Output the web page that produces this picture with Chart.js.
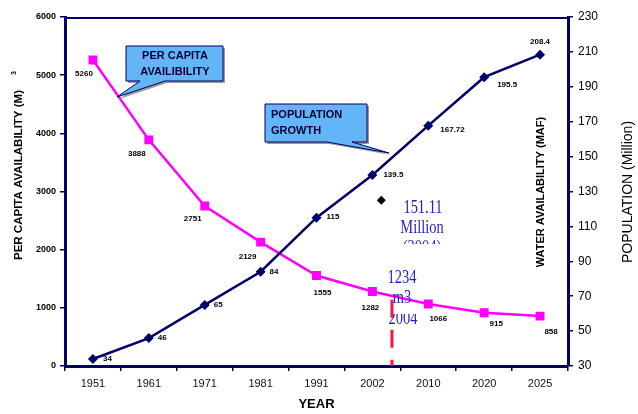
<!DOCTYPE html>
<html><head><meta charset="utf-8">
<script src="https://cdn.jsdelivr.net/npm/chart.js@4"></script>
<style>html,body{margin:0;padding:0;background:#fff}</style>
</head><body>
<canvas id="c" width="638" height="414" style="display:block;width:638px;height:414px"></canvas>
<script>
// ---- data ----
const categories = ['1951','1961','1971','1981','1991','2002','2010','2020','2025'];
const perCapita = [5260, 3888, 2751, 2129, 1555, 1282, 1066, 915, 858];
const population = [34, 46, 65, 84, 115, 139.5, 167.72, 195.5, 208.4];
const leftTickRange = {min: 0, max: 6000, step: 1000};
const rightTickRange = {min: 30, max: 230, step: 20};
const popMarker2004 = [{x: 5.16, y: 125}];
const dropLine2004 = [{x: 5.35, y: 68}, {x: 5.35, y: 30}];

const NAVY = '#000066';
const PINK = '#FF00FF';
const FONT = 'Arial, "Liberation Sans", sans-serif';
const SERIF = '"Times New Roman", "Liberation Serif", serif';

const overlay = {
  id: 'overlay',
  afterDatasetsDraw(chart) {
    const ctx = chart.ctx, a = chart.chartArea;
    ctx.save();
    // top frame line
    ctx.strokeStyle = NAVY; ctx.lineWidth = 2;
    ctx.beginPath(); ctx.moveTo(a.left, a.top + 1); ctx.lineTo(a.right, a.top + 1); ctx.stroke();

    // data labels
    ctx.fillStyle = '#000';
    ctx.font = 'bold 8px ' + FONT;
    ctx.textBaseline = 'middle';
    const pinkOff = [[-9,14],[-12,14],[-12,13],[-13,15],[6,17],[-2,16],[10,15],[12,11],[11,16]];
    const navyOff = [[10,0,'left'],[9,0,'left'],[9,0,'left'],[9,0,'left'],[10,-1,'left'],[11,0,'left'],[12,4,'left'],[13,8,'left'],[0,-13,'center']];
    const mp = chart.getDatasetMeta(0), mn = chart.getDatasetMeta(1);
    perCapita.forEach((v, i) => {
      const p = mp.data[i]; ctx.textAlign = 'center';
      ctx.fillText(String(v), p.x + pinkOff[i][0], p.y + pinkOff[i][1]);
    });
    population.forEach((v, i) => {
      const p = mn.data[i]; ctx.textAlign = navyOff[i][2];
      ctx.fillText(String(v), p.x + navyOff[i][0], p.y + navyOff[i][1]);
    });

    // callouts
    function callout(pts, lines, tx, ty, align) {
      ctx.save();
      ctx.translate(2, 2);
      ctx.fillStyle = '#9a9a9a';
      ctx.beginPath(); pts.forEach((q, k) => k ? ctx.lineTo(q[0], q[1]) : ctx.moveTo(q[0], q[1])); ctx.closePath(); ctx.fill();
      ctx.restore();
      ctx.fillStyle = '#63B5F8'; ctx.strokeStyle = NAVY; ctx.lineWidth = 1;
      ctx.beginPath(); pts.forEach((q, k) => k ? ctx.lineTo(q[0], q[1]) : ctx.moveTo(q[0], q[1])); ctx.closePath(); ctx.fill(); ctx.stroke();
      ctx.fillStyle = '#000033'; ctx.font = 'bold 11px ' + FONT; ctx.textAlign = align; ctx.textBaseline = 'middle';
      lines.forEach((t, k) => ctx.fillText(t, tx, ty + k * 16));
    }
    callout([[126,46],[223,46],[223,81],[165,81],[117,97],[140,81],[126,81]], ['PER CAPITA','AVAILIBILITY'], 175, 56, 'center');
    callout([[265,104],[367,104],[367,142],[352,142],[389,153],[327,142],[265,142]], ['POPULATION','GROWTH'], 271, 115, 'left');

    // blue serif annotations (condensed)
    function cond(text, x, y, clip) {
      ctx.save();
      if (clip) { ctx.beginPath(); ctx.rect(clip[0], clip[1], clip[2], clip[3]); ctx.clip(); }
      ctx.translate(x, y); ctx.scale(0.76, 1);
      ctx.font = '19px ' + SERIF; ctx.fillStyle = '#1f1fc8'; ctx.textAlign = 'center'; ctx.textBaseline = 'middle';
      ctx.fillText(text, 0, 0);
      ctx.restore();
    }
    cond('151.11', 423, 208);
    cond('Million', 422, 228);
    cond('(2004)', 422, 248, [380, 230, 90, 14]);
    cond('1234', 402, 278);
    cond('m3', 402, 298);
    cond('2004', 403, 319, [380, 314, 50, 20]);

    // rotated texts
    function rot(text, x, y, font, color) {
      ctx.save(); ctx.translate(x, y); ctx.rotate(-Math.PI / 2);
      ctx.font = font; ctx.fillStyle = color; ctx.textAlign = 'center'; ctx.textBaseline = 'middle';
      ctx.fillText(text, 0, 0); ctx.restore();
    }
    rot('PER CAPITA AVAILABILITY (M)', 19, 175, 'bold 11.5px ' + FONT, '#000');
    rot('3', 14, 73, 'bold 7px ' + FONT, '#000');
    rot('WATER AVAILABILITY (MAF)', 541, 192, 'bold 11px ' + FONT, '#000');
    rot('POPULATION (Million)', 628, 192, '14px ' + FONT, '#000');
    ctx.restore();
  }
};

new Chart(document.getElementById('c'), {
  data: {
    labels: categories,
    datasets: [
      { type: 'line', data: perCapita, yAxisID: 'y', xAxisID: 'x', order: 2,
        borderColor: PINK, borderWidth: 2.5, pointStyle: 'rect', pointRadius: 6.3,
        pointBackgroundColor: PINK, pointBorderWidth: 0, tension: 0 },
      { type: 'line', data: population, yAxisID: 'y2', xAxisID: 'x', order: 1,
        borderColor: NAVY, borderWidth: 2.5, pointStyle: 'rectRot', pointRadius: 5,
        pointBackgroundColor: NAVY, pointBorderWidth: 0, tension: 0 },
      { type: 'line', data: popMarker2004, yAxisID: 'y2', xAxisID: 'x2', order: 0,
        showLine: false, pointStyle: 'rectRot', pointRadius: 4.5, pointBackgroundColor: '#000', pointBorderWidth: 0 },
      { type: 'line', data: dropLine2004, yAxisID: 'y2', xAxisID: 'x2', order: 0,
        borderColor: '#FF1040', borderWidth: 3, borderDash: [18, 12], pointRadius: 0 }
    ]
  },
  options: {
    responsive: false, animation: false, devicePixelRatio: 1,
    layout: { padding: { top: 17, left: 0, right: 0, bottom: 0 } },
    plugins: { legend: { display: false }, tooltip: { enabled: false } },
    scales: {
      x: { type: 'category', offset: true,
        grid: { offset: true, drawOnChartArea: false, drawTicks: true, tickLength: 5, color: NAVY, lineWidth: 1.5 },
        border: { display: true, color: NAVY, width: 3 },
        ticks: { font: { family: FONT, size: 11 }, color: '#111', padding: 6, maxRotation: 0, autoSkip: false },
        title: { display: true, text: 'YEAR', font: { family: FONT, size: 13, weight: 'bold' }, color: '#000', padding: { top: 0, bottom: 2 } },
        afterFit: s => { s.height = 48; } },
      x2: { type: 'linear', display: false, min: -0.5, max: 8.5 },
      y: { type: 'linear', position: 'left', min: leftTickRange.min, max: leftTickRange.max,
        ticks: { stepSize: leftTickRange.step, font: { family: FONT, size: 9, weight: 'bold' }, color: '#000', padding: 4,
          callback: v => String(v) },
        grid: { drawOnChartArea: false, tickLength: 5, color: NAVY, lineWidth: 1.5 },
        border: { display: true, color: NAVY, width: 3 },
        afterFit: s => { s.width = 65; } },
      y2: { type: 'linear', position: 'right', min: rightTickRange.min, max: rightTickRange.max,
        ticks: { stepSize: rightTickRange.step, font: { family: FONT, size: 12 }, color: '#000', padding: 5,
          callback: v => String(v) },
        grid: { drawOnChartArea: false, tickLength: 5, color: NAVY, lineWidth: 1.5 },
        border: { display: true, color: NAVY, width: 3 },
        afterFit: s => { s.width = 70; } }
    }
  },
  plugins: [overlay]
});
</script>
</body></html>
